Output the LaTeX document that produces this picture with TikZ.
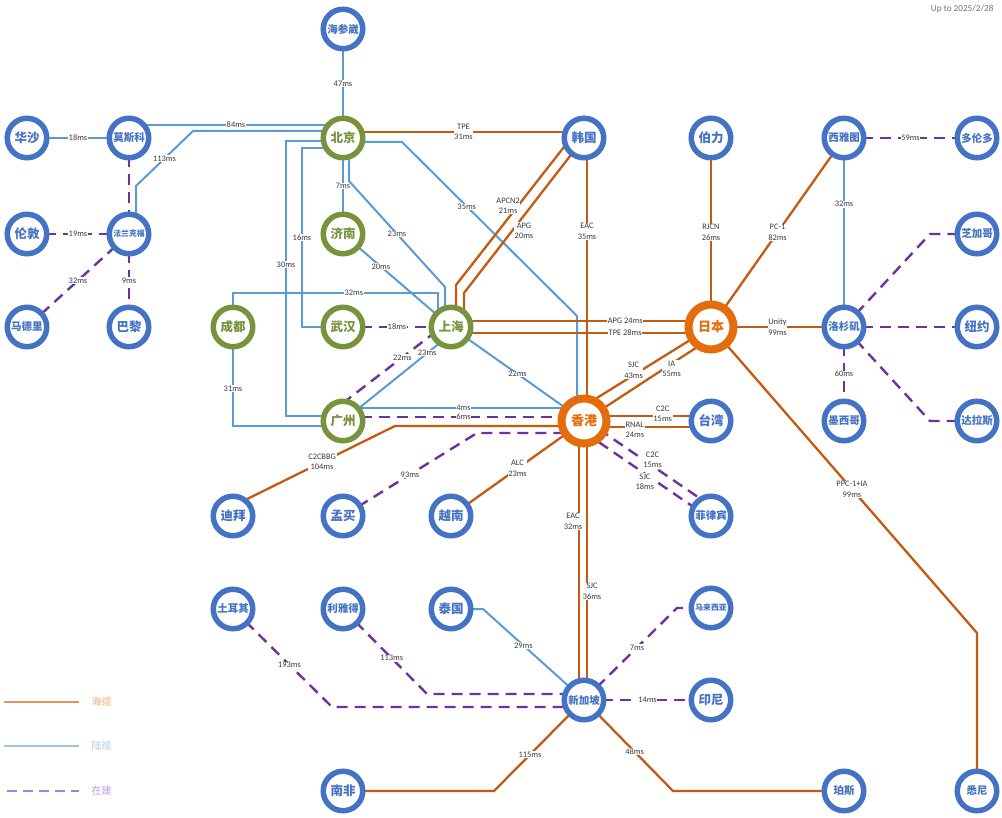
\documentclass[tikz,border=0pt]{standalone}
\usepackage{fontspec}
\setmainfont{Carlito}
\newfontfamily\cjk{Noto Sans CJK SC}
\usetikzlibrary{calc, backgrounds}
\definecolor{cblue}{HTML}{4472C4}
\definecolor{cgreen}{HTML}{77933C}
\definecolor{chub}{HTML}{E46C0A}
\definecolor{csea}{HTML}{C55A11}
\definecolor{cland}{HTML}{5B9BD5}
\definecolor{cplan}{HTML}{7030A0}
\definecolor{cgrey}{HTML}{3A3A3A}
\definecolor{legsea}{HTML}{E0935F}
\definecolor{legland}{HTML}{9DC3E6}
\definecolor{legplan}{HTML}{A682CF}
\definecolor{legseatxt}{HTML}{F0A878}
\definecolor{leglandtxt}{HTML}{A9CBEB}
\definecolor{legplantxt}{HTML}{B79FDC}
\tikzset{
  city/.style={circle, draw=cblue, line width=5.5pt, fill=white, minimum size=39.5pt, inner sep=0pt,
    text=cblue, font=\cjk\bfseries\fontsize{12.5}{12.5}\selectfont},
  cn/.style={city, draw=cgreen, text=cgreen},
  hub/.style={city, draw=chub, text=chub, line width=8pt, minimum size=45pt,
    font=\cjk\bfseries\fontsize{13}{13}\selectfont},
  f3/.style={font=\cjk\bfseries\fontsize{10.5}{10.5}\selectfont},
  f4/.style={font=\cjk\bfseries\fontsize{7.8}{7.8}\selectfont},
  sea/.style={draw=csea, line width=2.3pt},
  land/.style={draw=cland, line width=2pt},
  plan/.style={draw=cplan, line width=2.4pt, dash pattern=on 11pt off 7pt},
  lbl/.style={fill=white, inner sep=0.6pt, text=cgrey, align=center,
    font=\fontsize{8.4}{10.5}\selectfont},
  legtext/.style={anchor=west, font=\cjk\fontsize{10}{10}\selectfont},
}
\begin{document}
\begin{tikzpicture}[x=1pt, y=-1pt]
  \useasboundingbox (0,0) rectangle (1002,818);
  % cities, row by row
  \node[city, f3] (hsw) at (343,29) {海参崴};
  \node[city] (hs) at (27,138) {华沙};
  \node[city, f3] (msk) at (129,138) {莫斯科};
  \node[cn] (bj) at (343,138) {北京};
  \node[city] (kr) at (584,138) {韩国};
  \node[city] (bo) at (711,138) {伯力};
  \node[city, f3] (xyt) at (844,138) {西雅图};
  \node[city, f3] (dld) at (977,138) {多伦多};
  \node[city] (ld) at (27,234) {伦敦};
  \node[city, f4] (flk) at (129,234) {法兰克福};
  \node[cn] (jn) at (343,234) {济南};
  \node[city, f3] (zjg) at (977,234) {芝加哥};
  \node[city, f3] (mdl) at (27,327) {马德里};
  \node[city] (bl) at (129,327) {巴黎};
  \node[cn] (cd) at (233,327) {成都};
  \node[cn] (wh) at (343,327) {武汉};
  \node[cn] (sh) at (451,327) {上海};
  \node[hub] (jp) at (711,327) {日本};
  \node[city, f3] (lsj) at (844,327) {洛杉矶};
  \node[city] (ny) at (977,327) {纽约};
  \node[cn] (gz) at (343,421) {广州};
  \node[hub] (hk) at (584,421) {香港};
  \node[city] (tw) at (711,421) {台湾};
  \node[city, f3] (mxg) at (844,421) {墨西哥};
  \node[city, f3] (dls) at (977,421) {达拉斯};
  \node[city] (db) at (233,516) {迪拜};
  \node[city] (mm) at (343,516) {孟买};
  \node[city] (vn) at (451,516) {越南};
  \node[city, f3] (flb) at (711,516) {菲律宾};
  \node[city, f3] (teq) at (233,609) {土耳其};
  \node[city, f3] (lyd) at (343,609) {利雅得};
  \node[city] (tg) at (451,609) {泰国};
  \node[city, f4] (mlxy) at (711,608) {马来西亚};
  \node[city, f3] (sg) at (584,700) {新加坡};
  \node[city] (yn) at (711,700) {印尼};
  \node[city] (nf) at (343,791) {南非};
  \node[city, f3] (ps) at (844,791) {珀斯};
  \node[city, f3] (xn) at (977,791) {悉尼};

  \begin{scope}[on background layer]
    % land cables
    \draw[land] (hsw.center) -- (bj.center) node[lbl, midway] {47ms};
    \draw[land] (hs.center) -- (msk.center) node[lbl, midway] {18ms};
    \draw[land] ($(msk)+(0,-13)$) -- ($(bj)+(0,-13)$) node[lbl, midway] {84ms};
    \draw[land] ($(flk)+(7,0)$) -- ++(0,-48) -- ($(msk)+(64,-7)$) node[lbl, midway] {113ms} -- ($(bj)+(0,-7)$);
    \draw[land] (bj.center) -- (jn.center) node[lbl, midway] {7ms};
    \draw[land] ($(bj)+(0,10)$) -- ($(bj)+(-41,10)$) -- ($(wh)+(-41,0)$) node[lbl, midway] {16ms} -- (wh.center);
    \draw[land] ($(bj)+(0,3)$) -- ($(bj)+(-57,3)$) -- ($(gz)+(-57,-5)$) node[lbl, pos=0.45] {30ms} -- ($(gz)+(0,-5)$);
    \draw[land] (cd.center) -- ($(cd)+(0,-34)$) -- ($(sh)+(-13,-34)$) node[lbl, pos=0.59] {32ms} -- ($(sh)+(-13,0)$);
    \draw[land] (cd.center) -- ($(cd)+(0,99)$) node[lbl, pos=0.62] {31ms} -- ($(gz)+(0,5)$);
    \draw[land] ($(bj)+(6,0)$) -- ($(bj)+(6,43)$) -- ($(sh)+(-6,-40)$) node[lbl, midway] {23ms} -- ($(sh)+(-6,0)$);
    \draw[land] (jn.center) -- (sh.center) node[lbl, pos=0.35] {20ms};
    \draw[land] ($(bj)+(0,4)$) -- ($(bj)+(59,4)$) -- ($(hk)+(-7,-105)$) node[lbl, pos=0.37] {35ms} -- ($(hk)+(-7,0)$);
    \draw[land] (sh.center) -- (hk.center) node[lbl, midway] {22ms};
    \draw[land] ($(sh)+(0,7)$) -- (gz.center) node[lbl, pos=0.22] {23ms};
    \draw[land] ($(gz)+(0,-13)$) -- ($(hk)+(0,-13)$) node[lbl, midway] {4ms};
    \draw[land] (xyt.center) -- (lsj.center) node[lbl, pos=0.35] {32ms};
    \draw[land] (tg.center) -- ($(tg)+(32,0)$) -- (sg.center) node[lbl, pos=0.4] {29ms};
    % sea cables
    \draw[sea] ($(bj)+(0,-6)$) -- ($(kr)+(0,-6)$) node[lbl, midway] {TPE\\31ms};
    \draw[sea] ($(sh)+(5,0)$) -- ($(sh)+(5,-42)$) -- ($(kr)+(-13,0)$) node[lbl, pos=0.54, xshift=-10pt] {APCN2\\21ms};
    \draw[sea] ($(sh)+(13,0)$) -- ($(sh)+(13,-34)$) -- (kr.center) node[lbl, pos=0.4, xshift=12pt] {APG\\20ms};
    \draw[sea] ($(kr)+(3,0)$) -- ($(hk)+(3,0)$) node[lbl, pos=0.33] {EAC\\35ms};
    \draw[sea] ($(sh)+(0,-6)$) -- ($(jp)+(0,-6)$) node[lbl, pos=0.67] {APG 24ms};
    \draw[sea] ($(sh)+(0,6)$) -- ($(jp)+(0,6)$) node[lbl, pos=0.67] {TPE 28ms};
    \draw[sea] (jp.center) -- (bo.center) node[lbl, midway] {RJCN\\26ms};
    \draw[sea] (jp.center) -- (xyt.center) node[lbl, midway] {PC-1\\82ms};
    \draw[sea] (jp.center) -- (lsj.center) node[lbl, midway] {Unity\\99ms};
    \draw[sea] (jp.center) -- ($(xn)+(0,-158)$) node[lbl, pos=0.53] {PPC-1+IA\\99ms} -- (xn.center);
    \draw[sea] ($(hk)+(0,-15)$) -- (jp.center) node[lbl, pos=0.39, yshift=5pt] {SJC\\43ms};
    \draw[sea] (hk.center) -- ($(jp)+(0,11)$) node[lbl, pos=0.69, yshift=-5pt] {IA\\55ms};
    \draw[sea] ($(hk)+(0,-5)$) -- ($(tw)+(0,-5)$) node[lbl, pos=0.62, yshift=2pt] {C2C\\15ms};
    \draw[sea] ($(hk)+(0,6)$) -- ($(tw)+(0,6)$) node[lbl, pos=0.4, yshift=-3pt] {RNAL\\24ms};
    \draw[sea] (hk.center) -- (vn.center) node[lbl, midway] {ALC\\23ms};
    \draw[sea] ($(hk)+(0,5)$) -- ($(gz)+(52,5)$) -- ($(db)+(0,-10)$) node[lbl, pos=0.45] {C2CBBG\\104ms};
    \draw[sea] ($(hk)+(-5,0)$) -- ($(sg)+(-5,0)$) node[lbl, pos=0.36, xshift=-6pt] {EAC\\32ms};
    \draw[sea] ($(hk)+(3,0)$) -- ($(sg)+(3,0)$) node[lbl, pos=0.61, xshift=5pt] {SJC\\36ms};
    \draw[sea] (sg.center) -- ($(nf)+(151,0)$) node[lbl, pos=0.6] {115ms} -- (nf.center);
    \draw[sea] (sg.center) -- ($(ps)+(-171,0)$) node[lbl, pos=0.57] {48ms} -- (ps.center);
    % under construction
    \draw[plan] (msk.center) -- (flk.center);
    \draw[plan] (ld.center) -- (flk.center) node[lbl, midway] {19ms};
    \draw[plan] (flk.center) -- (mdl.center) node[lbl, midway] {32ms};
    \draw[plan] (flk.center) -- (bl.center) node[lbl, midway] {9ms};
    \draw[plan] (wh.center) -- (sh.center) node[lbl, midway] {18ms};
    \draw[plan] ($(sh)+(0,-7)$) -- ($(gz)+(0,-18)$) node[lbl, pos=0.45] {22ms};
    \draw[plan] ($(gz)+(0,-4)$) -- ($(hk)+(0,-4)$) node[lbl, midway] {6ms};
    \draw[plan] (mm.center) -- ($(hk)+(-107,12)$) node[lbl, midway] {93ms} -- ($(hk)+(0,12)$);
    \draw[plan] ($(hk)+(0,-2)$) -- ($(flb)+(0,-10)$) node[lbl, pos=0.54, yshift=6pt] {C2C\\15ms};
    \draw[plan] ($(hk)+(0,11)$) -- ($(flb)+(0,3)$) node[lbl, pos=0.48, yshift=-8pt] {SJC\\18ms};
    \draw[plan] (xyt.center) -- (dld.center) node[lbl, midway] {59ms};
    \draw[plan] (lsj.center) -- ($(zjg)+(-47,0)$) -- (zjg.center);
    \draw[plan] (lsj.center) -- (ny.center);
    \draw[plan] (lsj.center) -- (mxg.center) node[lbl, midway] {60ms};
    \draw[plan] (lsj.center) -- ($(dls)+(-47,0)$) -- (dls.center);
    \draw[plan] (teq.center) -- ($(sg)+(-252,7)$) node[lbl, pos=0.57] {193ms} -- ($(sg)+(0,7)$);
    \draw[plan] (lyd.center) -- ($(sg)+(-157,-6)$) node[lbl, pos=0.58] {113ms} -- ($(sg)+(0,-6)$);
    \draw[plan] (sg.center) -- ($(mlxy)+(-34,0)$) node[lbl, pos=0.57] {7ms} -- (mlxy.center);
    \draw[plan] (sg.center) -- (yn.center) node[lbl, midway] {14ms};
  \end{scope}

  % legend
  \coordinate (seaA) at (4,702);
  \coordinate (seaB) at (79,702);
  \coordinate (landA) at (4,746);
  \coordinate (landB) at (79,746);
  \coordinate (planA) at (7,791);
  \coordinate (planB) at (79,791);
  \draw[sea, draw=legsea, line width=2pt] (seaA) -- (seaB);
  \draw[land, draw=legland] (landA) -- (landB);
  \draw[plan, draw=legplan, line width=2pt, dash pattern=on 10pt off 6pt] (planA) -- (planB);
  \node[legtext, text=legseatxt] (seatxt) at (88,702) {海缆};
  \node[legtext, text=leglandtxt] (landtxt) at (88,746) {陆缆};
  \node[legtext, text=legplantxt] (plantxt) at (88,791) {在建};
  \node[anchor=east, text=gray!90!black, font=\fontsize{9.2}{11}\selectfont] (date) at (997,9) {Up to 2025/2/28};
\end{tikzpicture}
\end{document}
